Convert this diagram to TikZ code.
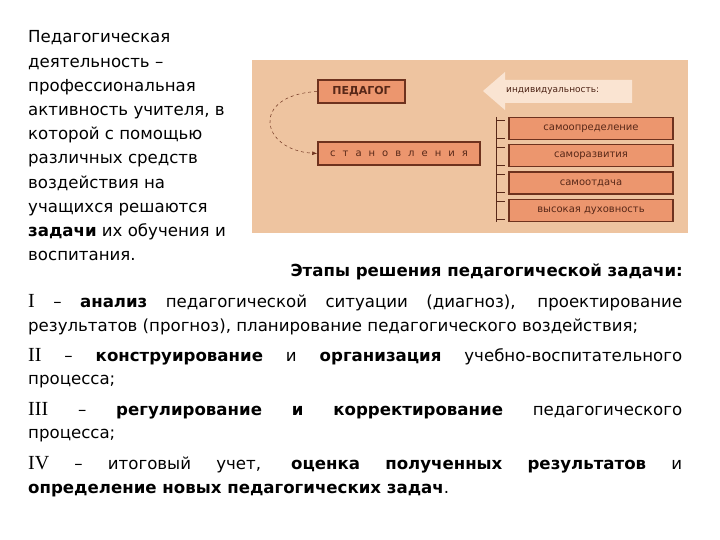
\documentclass[tikz,border=0pt]{standalone}
\usepackage{fontspec}
\setmainfont{DejaVu Sans}
\newfontfamily\rmn{Liberation Serif}
\usetikzlibrary{arrows.meta}
\definecolor{panel}{RGB}{238,196,160}
\definecolor{boxf}{RGB}{236,150,110}
\definecolor{boxd}{RGB}{110,50,30}
\definecolor{arrf}{RGB}{250,228,210}
\begin{document}
\begin{tikzpicture}[x=1pt,y=-1pt,
  txt/.style={anchor=base west,inner sep=0pt,font=\fontsize{16.6}{18}\selectfont},
  bx/.style={draw=boxd,line width=1.6pt,fill=boxf,inner sep=0pt,text=boxd!80!black}]
\useasboundingbox (0,0) rectangle (720,540);
\fill[white] (0,0) rectangle (720,540);
% left paragraph
\foreach \t [count=\i] in {Педагогическая,деятельность –,профессиональная,{активность учителя, в},{которой с помощью},{различных средств},{воздействия на},{учащихся решаются},{\textbf{задачи} их обучения и},{воспитания.}}
  \node[txt] (l\i) at (28,{43+24.2*(\i-1)}) {\t};
% panel
\fill[panel] (252,60) rectangle (688,233);
\fill[arrf] (483,91) -- (505,72) -- (505,80) -- (632,80) -- (632,103) -- (505,103) -- (505,110) -- cycle;
\node[anchor=west,inner sep=0pt,font=\fontsize{9}{10}\selectfont,text=boxd!70!black] (ind) at (506,91) {индивидуальность:};
\node[bx,minimum width=87,minimum height=23,font=\fontsize{11}{12}\selectfont\bfseries] (ped) at (361.5,91.5) {ПЕДАГОГ};
\node[bx,minimum width=162,minimum height=23,font=\fontsize{10}{10}\selectfont] (st) at (399,153.5) {с\hspace{7pt}т\hspace{7pt}а\hspace{7pt}н\hspace{7pt}о\hspace{7pt}в\hspace{7pt}л\hspace{7pt}е\hspace{7pt}н\hspace{7pt}и\hspace{7pt}я};
\draw[boxd,dashed,line width=0.5pt,-{Latex[length=5pt]}] (ped.west) .. controls (250,95) and (260,150) .. (st.west);
\foreach \n/\y/\t in {a/128.5/самоопределение,b/155.5/саморазвития,c/183/самоотдача,d/210.5/высокая духовность}
  \node[bx,minimum width=164,minimum height=22,font=\fontsize{10}{10}\selectfont] (\n) at (591,\y) {\t};
\draw[boxd!80!black,line width=1pt] (496,117) -- (496,222);
\foreach \y in {120,138,147,165,174,192,201,219}
  \draw[boxd!80!black,line width=0.8pt] (496,\y) -- (505,\y);
% title and stages
\node[txt,font=\fontsize{16.6}{18}\selectfont\bfseries,anchor=base east] (ttl) at (683,276) {Этапы решения педагогической задачи:};
\newcommand\rn[1]{{\rmn\fontsize{20}{20}\selectfont #1}}
\node[txt] (p1a) at (28,307) {\makebox[654pt][s]{\rn{I} – \textbf{анализ} педагогической ситуации (диагноз), проектирование}};
\node[txt] (p1b) at (28,331) {результатов (прогноз), планирование педагогического воздействия;};
\node[txt] (p2a) at (28,361) {\makebox[654pt][s]{\rn{II} – \textbf{конструирование} и \textbf{организация} учебно-воспитательного}};
\node[txt] (p2b) at (28,384) {процесса;};
\node[txt] (p3a) at (28,415) {\makebox[654pt][s]{\rn{III} – \textbf{регулирование} \textbf{и} \textbf{корректирование} педагогического}};
\node[txt] (p3b) at (28,438) {процесса;};
\node[txt] (p4a) at (28,469) {\makebox[654pt][s]{\rn{IV} – итоговый учет, \textbf{оценка} \textbf{полученных} \textbf{результатов} и}};
\node[txt] (p4b) at (28,493) {\textbf{определение новых педагогических задач}.};
\end{tikzpicture}
\end{document}
